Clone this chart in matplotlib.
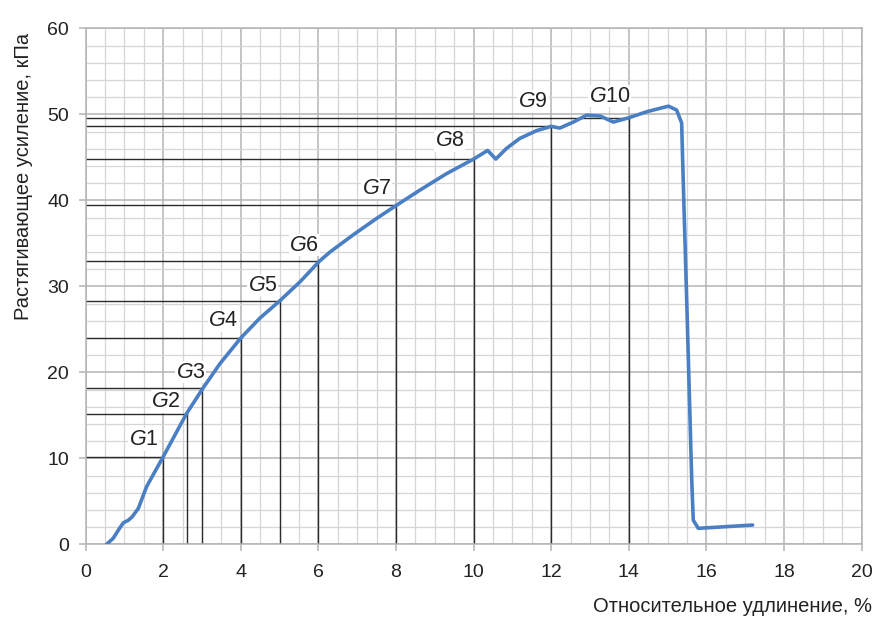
import matplotlib
matplotlib.use('Agg')
import matplotlib.pyplot as plt
from matplotlib.ticker import MultipleLocator

plt.rcParams['font.family'] = ['Liberation Sans Narrow', 'Liberation Sans', 'DejaVu Sans']
plt.rcParams['mathtext.fontset'] = 'custom'
plt.rcParams['mathtext.it'] = 'Liberation Sans:italic'
plt.rcParams['mathtext.rm'] = 'Liberation Sans'

# tensile curve: elongation (%) vs tensile force (kPa)
strain = [0.54, 0.71, 0.85, 0.97, 1.1, 1.2, 1.36, 1.57, 2.0, 2.6, 3.03, 3.46,
          4.0, 4.49, 5.0, 5.52, 6.02, 6.3, 6.9, 7.5, 8.02, 8.62, 9.3, 10.0,
          10.36, 10.57, 10.85, 11.19, 11.62, 12.0, 12.22, 12.57, 12.91, 13.26,
          13.6, 14.0, 14.46, 15.02, 15.23, 15.36, 15.4, 15.5, 15.62, 15.66,
          15.79, 17.19]
force = [0.0, 0.7, 1.7, 2.5, 2.8, 3.2, 4.2, 6.7, 10.2, 15.2, 18.2, 21.0,
         24.0, 26.3, 28.3, 30.5, 32.9, 34.0, 36.0, 37.9, 39.45, 41.2, 43.1, 44.8,
         45.8, 44.8, 46.05, 47.2, 48.1, 48.6, 48.4, 49.1, 49.9, 49.8,
         49.1, 49.6, 50.3, 50.95, 50.5, 49.0, 42.4, 26.9, 7.5, 2.8,
         1.86, 2.24]

# marked points G1..G10
g_names = ['1', '2', '3', '4', '5', '6', '7', '8', '9', '10']
g_x = [2.0, 2.6, 3.0, 4.0, 5.0, 6.0, 8.0, 10.0, 12.0, 14.0]
g_y = [10.2, 15.2, 18.2, 24.0, 28.3, 32.9, 39.45, 44.8, 48.6, 49.6]
label_x = [1.5, 2.07, 2.71, 3.55, 4.56, 5.63, 7.5, 9.39, 11.52, 13.5]
label_y = [12.2, 16.6, 20.0, 26.0, 30.15, 34.8, 41.4, 46.9, 51.5, 52.1]

fig = plt.figure(figsize=(8.74, 6.17), dpi=100)
ax = fig.add_axes([0.098, 0.1178, 0.8879, 0.8363])

ax.set_xlim(0, 20)
ax.set_ylim(0, 60)
ax.xaxis.set_major_locator(MultipleLocator(2))
ax.xaxis.set_minor_locator(MultipleLocator(0.5))
ax.yaxis.set_major_locator(MultipleLocator(10))
ax.yaxis.set_minor_locator(MultipleLocator(2))
ax.grid(which='major', color='#b4b4b4', linewidth=1.1, zorder=0)
ax.grid(which='minor', color='#d6d6d6', linewidth=0.9, zorder=0)
ax.set_axisbelow(True)
for s in ax.spines.values():
    s.set_color('#b4b4b4')
    s.set_linewidth(1.1)
ax.tick_params(which='major', length=5, width=1.1, color='#b4b4b4',
               labelsize=14, labelcolor='#222222')
ax.tick_params(axis='x', which='major', pad=9)
ax.tick_params(axis='y', which='major', pad=7)
ax.tick_params(which='minor', length=0)

for gx, gy in zip(g_x, g_y):
    ax.plot([0, gx], [gy, gy], color='#2b2b2b', linewidth=1.0, zorder=2)
    ax.plot([gx, gx], [0, gy], color='#2b2b2b', linewidth=1.0, zorder=2)

for name, lx, ly in zip(g_names, label_x, label_y):
    ax.text(lx, ly, r'$\it{G}$' + name, fontsize=15.5, color='#222222',
            ha='center', va='center', zorder=3,
            bbox=dict(facecolor='white', edgecolor='none', pad=0.5))

ax.plot(strain, force, color='#4a7fc4', linewidth=2.6,
        solid_capstyle='round', solid_joinstyle='round', zorder=4)

fig.text(0.027, 1 - 176 / 617, 'Растягивающее усиление, кПа', rotation=90,
         ha='center', va='center', fontsize=14.5, color='#222222')
fig.text(0.998, 1 - 606 / 617, 'Относительное удлинение, %',
         ha='right', va='center', fontsize=14.5, color='#222222')

fig.savefig('out.png', dpi=100)
